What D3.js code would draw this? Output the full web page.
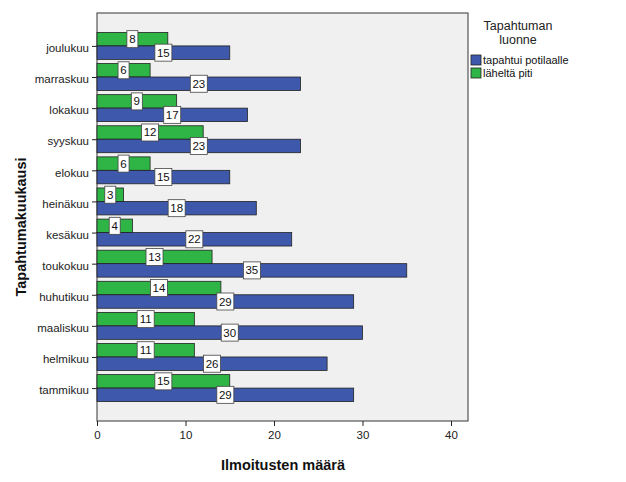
<!DOCTYPE html>
<html><head><meta charset="utf-8">
<script src="https://cdn.jsdelivr.net/npm/d3@7"></script>
<style>body{margin:0;background:#fff;} text{font-family:Arial,"Liberation Sans",sans-serif;}</style>
</head><body>
<svg id="c" width="626" height="482"></svg>
<script>
const months = ["joulukuu","marraskuu","lokakuu","syyskuu","elokuu","heinäkuu","kesäkuu","toukokuu","huhutikuu","maaliskuu","helmikuu","tammikuu"];
const tapahtui = [15,23,17,23,15,18,22,35,29,30,26,29];
const laheltaPiti = [8,6,9,12,6,3,4,13,14,11,11,15];
const seriesNames = ["tapahtui potilaalle","läheltä piti"];
const seriesColors = ["#3e58ac","#2fb545"];
const xTicks = [0,10,20,30,40];

const svg = d3.select("#c");
const L=97, R=468, T=13, B=421;
svg.append("rect").attr("x",L).attr("y",T).attr("width",R-L).attr("height",B-T)
  .attr("fill","#f0f0f0").attr("stroke","#555").attr("stroke-width",1.2);

const x = d3.scaleLinear().domain([0,40]).range([L, L+354]);
const y = d3.scaleBand().domain(months).range([T,B]).paddingInner(0.134).paddingOuter(0.625);
const sub = d3.scaleBand().domain(["g","b"]).range([0,y.bandwidth()]);

const g = svg.append("g");
months.forEach((m,i)=>{
  const vals=[["g",laheltaPiti[i],seriesColors[1]],["b",tapahtui[i],seriesColors[0]]];
  vals.forEach(([k,v,c])=>{
    g.append("rect").attr("x",x(0)).attr("y",y(m)+sub(k)).attr("width",x(v)-x(0)).attr("height",sub.bandwidth())
      .attr("fill",c).attr("stroke","#222").attr("stroke-width",0.8);
  });
});
// labels
months.forEach((m,i)=>{
  const vals=[["g",laheltaPiti[i]],["b",tapahtui[i]]];
  vals.forEach(([k,v])=>{
    const cx = x(v/2), cy = y(m)+sub(k)+sub.bandwidth()/2;
    const s = String(v);
    const w = s.length>1?17:11;
    g.append("rect").attr("x",cx-w/2).attr("y",cy-8.5).attr("width",w).attr("height",17)
      .attr("fill","#fff").attr("stroke","#444").attr("stroke-width",0.8);
    g.append("text").attr("x",cx).attr("y",cy+4).attr("text-anchor","middle")
      .attr("font-size",11.5).attr("fill","#111").text(s);
  });
});

// axes
const xAxis = svg.append("g").attr("transform",`translate(0,${B})`)
  .call(d3.axisBottom(x).tickValues(xTicks).tickSize(5).tickSizeOuter(0));
xAxis.select(".domain").remove();
xAxis.selectAll("text").attr("font-size",11.5).attr("fill","#222").attr("dy","0.9em");
xAxis.selectAll("line").attr("stroke","#222");

const yc = d3.scalePoint().domain(months).range([y(months[0])+y.bandwidth()/2, y(months[11])+y.bandwidth()/2]);
const yAxis = svg.append("g").attr("transform",`translate(${L},0)`)
  .call(d3.axisLeft(yc).tickSize(5).tickSizeOuter(0));
yAxis.select(".domain").remove();
yAxis.selectAll("text").attr("font-size",11.5).attr("fill","#222").attr("dy","0.5em");
yAxis.selectAll("line").attr("stroke","#222");

svg.append("text").attr("x",283).attr("y",470).attr("text-anchor","middle")
  .attr("font-size",14.5).attr("font-weight","bold").attr("fill","#111").text("Ilmoitusten määrä");
svg.append("text").attr("transform","translate(26,227) rotate(-90)").attr("text-anchor","middle")
  .attr("font-size",14.5).attr("font-weight","bold").attr("fill","#111").text("Tapahtumakuukausi");

// legend
svg.append("text").attr("x",518).attr("y",30).attr("text-anchor","middle").attr("font-size",12.5).attr("fill","#222").text("Tapahtuman");
svg.append("text").attr("x",518).attr("y",44).attr("text-anchor","middle").attr("font-size",12.5).attr("fill","#222").text("luonne");
seriesNames.forEach((n,i)=>{
  const yy = 55+i*13;
  svg.append("rect").attr("x",471).attr("y",yy).attr("width",10).attr("height",10)
    .attr("fill",seriesColors[i]).attr("stroke","#222").attr("stroke-width",0.8);
  svg.append("text").attr("x",483).attr("y",yy+9).attr("font-size",11).attr("fill","#111").text(n);
});
</script>
</body></html>
